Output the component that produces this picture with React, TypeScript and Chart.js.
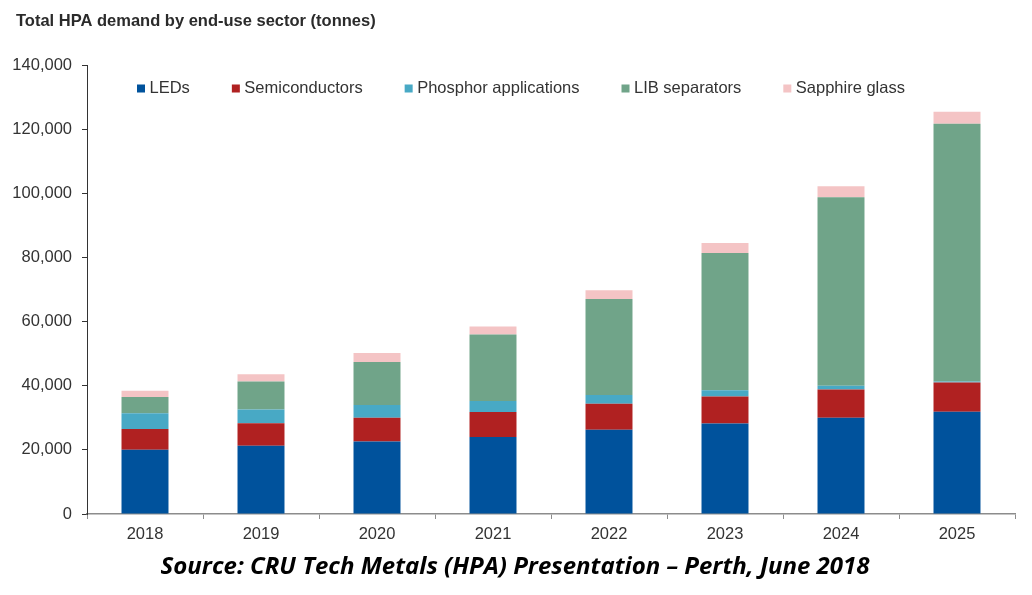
import React, { useEffect, useRef } from "react";
import { Chart, registerables } from "chart.js";

Chart.register(...registerables);

const years = ["2018", "2019", "2020", "2021", "2022", "2023", "2024", "2025"];
const leds = [20000, 21300, 22600, 24000, 26300, 28200, 30000, 31900];
const semiconductors = [6500, 7000, 7400, 7800, 8100, 8400, 8800, 9100];
const phosphor = [4900, 4300, 4000, 3400, 2700, 2000, 1200, 300];
const libSeparators = [5100, 8700, 13400, 20800, 29900, 42800, 58800, 80400];
const sapphire = [1900, 2300, 2800, 2500, 2800, 3100, 3400, 3700];

const seriesNames = ["LEDs", "Semiconductors", "Phosphor applications", "LIB separators", "Sapphire glass"];
const seriesColors = ["#00529C", "#B02121", "#48A9C5", "#70A489", "#F4C4C5"];
const yTicks = [0, 20000, 40000, 60000, 80000, 100000, 120000, 140000];

const titleText = "Total HPA demand by end-use sector (tonnes)";
const sourceText = "Source: CRU Tech Metals (HPA) Presentation \u2013 Perth, June 2018";

const FONT = "'Liberation Sans', Arial, sans-serif";

const overlayPlugin = {
  id: "overlay",
  afterDraw(chart: any) {
    const ctx = chart.ctx as CanvasRenderingContext2D;
    ctx.save();
    // title
    ctx.fillStyle = "#2b2b2b";
    ctx.font = `bold 16.5px ${FONT}`;
    ctx.textAlign = "left";
    ctx.textBaseline = "alphabetic";
    ctx.fillText(titleText, 16, 26);

    // legend inside the plot
    ctx.font = `16.5px ${FONT}`;
    ctx.textBaseline = "middle";
    let x = 137;
    const y = 88.5;
    chart.data.datasets.forEach((ds: any) => {
      ctx.fillStyle = ds.backgroundColor;
      ctx.fillRect(x, y - 4, 8, 8);
      ctx.fillStyle = "#333333";
      const tx = x + 12.5;
      ctx.fillText(ds.label, tx, y);
      x = tx + ctx.measureText(ds.label).width + 42;
    });

    // source line
    ctx.fillStyle = "#000000";
    ctx.font = `italic bold 23px 'Open Sans', ${FONT}`;
    ctx.textAlign = "center";
    ctx.textBaseline = "alphabetic";
    const w = ctx.measureText(sourceText).width;
    const sx = 709 / w;
    ctx.translate(515, 573.5);
    ctx.scale(sx, 1);
    ctx.fillText(sourceText, 0, 0);
    ctx.restore();
  },
};

export default function App() {
  const canvasRef = useRef<HTMLCanvasElement | null>(null);

  useEffect(() => {
    if (!canvasRef.current) return;
    const values = [leds, semiconductors, phosphor, libSeparators, sapphire];
    const chart = new Chart(canvasRef.current, {
      type: "bar",
      data: {
        labels: years,
        datasets: seriesNames.map((name, i) => ({
          label: name,
          data: values[i],
          backgroundColor: seriesColors[i],
          borderWidth: 0,
          categoryPercentage: 1,
          barPercentage: 0.405,
        })),
      },
      options: {
        animation: false,
        responsive: false,
        maintainAspectRatio: false,
        locale: "en-US",
        layout: { padding: { top: 65, right: 17, left: 0, bottom: 0 } },
        plugins: {
          legend: { display: false },
          title: { display: false },
          tooltip: { enabled: false },
        },
        scales: {
          x: {
            stacked: true,
            grid: {
              display: true,
              drawOnChartArea: false,
              drawTicks: true,
              tickLength: 5,
              color: "#8c8c8c",
              offset: true,
            },
            border: { display: true, color: "#8c8c8c", width: 1.5 },
            ticks: {
              color: "#333333",
              font: { family: FONT, size: 16.5 },
              padding: 6,
            },
            afterFit(scale: any) {
              scale.height = 81;
            },
          },
          y: {
            stacked: true,
            min: 0,
            max: 140000,
            afterBuildTicks(scale: any) {
              scale.ticks = yTicks.map((v) => ({ value: v }));
            },
            grid: {
              display: true,
              drawOnChartArea: false,
              drawTicks: true,
              tickLength: 5,
              color: "#333333",
            },
            border: { display: true, color: "#333333", width: 1 },
            ticks: {
              color: "#333333",
              font: { family: FONT, size: 16.5 },
              padding: 10,
              callback: (v: any) => Number(v).toLocaleString("en-US"),
            },
            afterFit(scale: any) {
              scale.width = 87;
            },
          },
        },
      },
      plugins: [overlayPlugin],
    });
    return () => chart.destroy();
  }, []);

  return (
    <div style={{ position: "fixed", left: 0, top: 0, width: 1032, height: 595, background: "#ffffff" }}>
      <canvas ref={canvasRef} width={1032} height={595} style={{ width: 1032, height: 595, display: "block" }} />
    </div>
  );
}
